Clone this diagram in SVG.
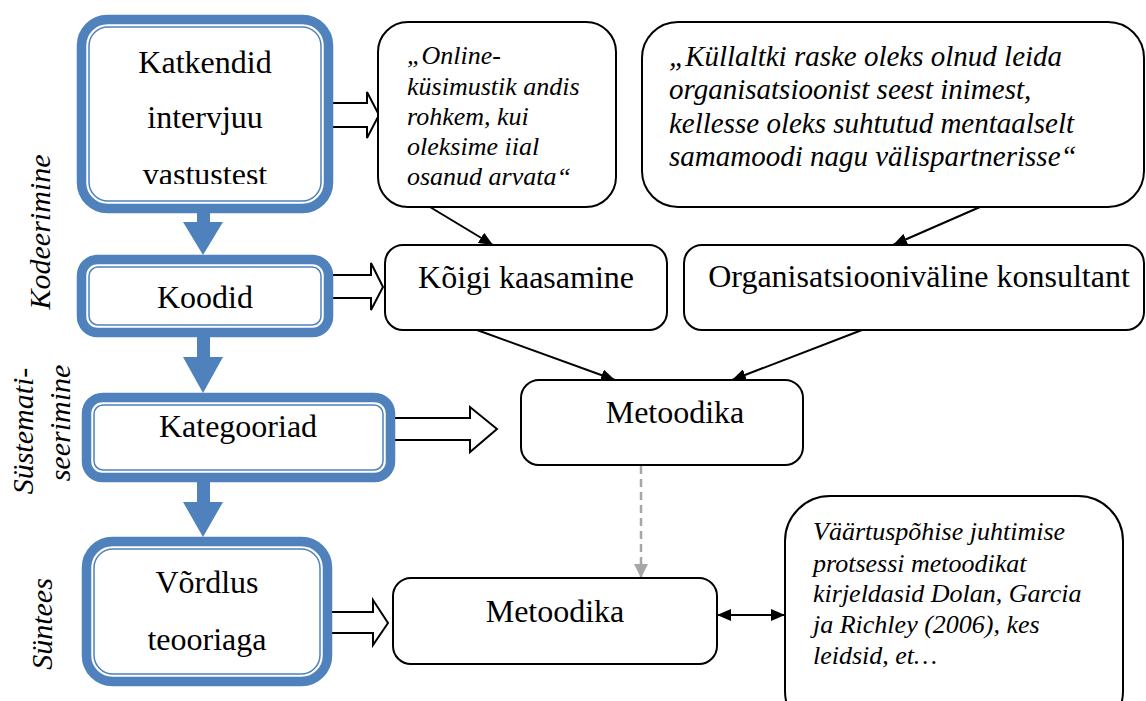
<svg xmlns="http://www.w3.org/2000/svg" width="1146" height="701" viewBox="0 0 1146 701">
  <style>
    .t { font-family: "Liberation Serif", "Times New Roman", serif; fill: #000; }
    .box-text { font-size: 32px; text-anchor: middle; }
    .quote { font-size: 26px; font-style: italic; }
    .quote-lg { font-size: 29px; font-style: italic; }
    .side { font-size: 30px; font-style: italic; text-anchor: middle; }
    .stage-outer { fill: #fff; stroke: #4f81bd; stroke-width: 9.5; }
    .stage-inner { fill: none; stroke: #4f81bd; stroke-width: 1.5; }
    .stage-arrow { fill: #4f81bd; }
    .plain { fill: #fff; stroke: #000; stroke-width: 2; }
    .hollow { fill: #fff; stroke: #000; stroke-width: 2; stroke-linejoin: miter; }
    .link { stroke: #000; stroke-width: 2; fill: none; }
    .dashed { stroke: #a6a6a6; stroke-width: 2.5; stroke-dasharray: 8 5; fill: none; }
  </style>
  <defs>
    <marker id="ah" viewBox="0 0 14 12" refX="14" refY="6" markerWidth="14" markerHeight="12" markerUnits="userSpaceOnUse" orient="auto-start-reverse">
      <path d="M0,0 L14,6 L0,12 Z" fill="#000"/>
    </marker>
    <marker id="ah-grey" viewBox="0 0 14 14" refX="14" refY="7" markerWidth="14" markerHeight="14" markerUnits="userSpaceOnUse" orient="auto">
      <path d="M0,0 L14,7 L0,14 Z" fill="#a6a6a6"/>
    </marker>
    <clipPath id="clip-excerpts">
      <rect x="86" y="24" width="240" height="160"/>
    </clipPath>
  </defs>

  <rect width="1146" height="701" fill="#fff"/>

  <!-- side phase labels -->
  <g id="phase-labels">
    <text class="t side" transform="translate(50,232) rotate(-90)">Kodeerimine</text>
    <text class="t side" transform="translate(33,431) rotate(-90)">Süstemati-</text>
    <text class="t side" transform="translate(70,423) rotate(-90)">seerimine</text>
    <text class="t side" transform="translate(52,624) rotate(-90)">Süntees</text>
  </g>

  <!-- connectors -->
  <g id="connectors">
    <!-- block arrows from stages -->
    <polygon class="hollow" points="327,103 367,103 367,92 379,115 367,138 367,127 327,127"/>
    <polygon class="hollow" points="328,275 371,275 371,263 383,287 371,310 371,298 328,298"/>
    <polygon class="hollow" points="390,418 470,418 470,407 497,429 470,452 470,440 390,440"/>
    <polygon class="hollow" points="323,612 373,612 373,600 388,623 373,645 373,633 323,633"/>
    <!-- stage-to-stage arrows -->
    <path class="stage-arrow" d="M197,210 H210 V222 H223 L203,255 L183,222 H197 Z"/>
    <path class="stage-arrow" d="M197,335 H210 V357 H223 L203,393 L183,357 H197 Z"/>
    <path class="stage-arrow" d="M197,480 H210 V502 H223 L203,537 L183,502 H197 Z"/>
    <!-- thin arrows -->
    <line class="link" x1="430" y1="207" x2="493" y2="245" marker-end="url(#ah)"/>
    <line class="link" x1="980" y1="207" x2="893" y2="245" marker-end="url(#ah)"/>
    <line class="link" x1="477" y1="330" x2="615" y2="380" marker-end="url(#ah)"/>
    <line class="link" x1="862" y1="330" x2="732" y2="380" marker-end="url(#ah)"/>
    <line class="dashed" x1="641" y1="466" x2="641" y2="578" marker-end="url(#ah-grey)"/>
    <line class="link" x1="717" y1="615" x2="785" y2="615" marker-start="url(#ah)" marker-end="url(#ah)"/>
  </g>

  <!-- stage boxes -->
  <g id="stage-excerpts">
    <rect class="stage-outer" x="81.5" y="19.5" width="247" height="189" rx="26"/>
    <rect class="stage-inner" x="89" y="27" width="232" height="174" rx="19"/>
    <g clip-path="url(#clip-excerpts)">
      <text class="t box-text" x="205" y="73">Katkendid</text>
      <text class="t box-text" x="205" y="128">intervjuu</text>
      <text class="t box-text" x="205" y="185">vastustest</text>
    </g>
  </g>
  <g id="stage-codes">
    <rect class="stage-outer" x="81.5" y="259.5" width="247" height="73" rx="16"/>
    <rect class="stage-inner" x="89" y="267" width="232" height="58" rx="9"/>
    <text class="t box-text" x="205" y="308">Koodid</text>
  </g>
  <g id="stage-categories">
    <rect class="stage-outer" x="86.5" y="397.5" width="304" height="80" rx="16"/>
    <rect class="stage-inner" x="94" y="405" width="289" height="65" rx="9"/>
    <text class="t box-text" x="238" y="437">Kategooriad</text>
  </g>
  <g id="stage-comparison">
    <rect class="stage-outer" x="86.5" y="541.5" width="241" height="140" rx="26"/>
    <rect class="stage-inner" x="94" y="549" width="226" height="125" rx="19"/>
    <text class="t box-text" x="207" y="593">Võrdlus</text>
    <text class="t box-text" x="207" y="650">teooriaga</text>
  </g>

  <!-- quotes and themes -->
  <g id="quote-online">
    <rect class="plain" x="378" y="22" width="238" height="185" rx="30"/>
    <text class="t quote" x="407" y="64">„Online-</text>
    <text class="t quote" x="407" y="95">küsimustik andis</text>
    <text class="t quote" x="407" y="125">rohkem, kui</text>
    <text class="t quote" x="407" y="155">oleksime iial</text>
    <text class="t quote" x="407" y="185">osanud arvata“</text>
  </g>
  <g id="quote-consultant">
    <rect class="plain" x="642" y="22" width="502" height="185" rx="36"/>
    <text class="t quote-lg" x="669" y="66">„Küllaltki raske oleks olnud leida</text>
    <text class="t quote-lg" x="669" y="99">organisatsioonist seest inimest,</text>
    <text class="t quote-lg" x="669" y="133">kellesse oleks suhtutud mentaalselt</text>
    <text class="t quote-lg" x="669" y="166">samamoodi nagu välispartnerisse“</text>
  </g>
  <g id="code-inclusion">
    <rect class="plain" x="385" y="245" width="282" height="85" rx="18"/>
    <text class="t box-text" x="526" y="288">Kõigi kaasamine</text>
  </g>
  <g id="code-consultant">
    <rect class="plain" x="684" y="245" width="460" height="85" rx="18"/>
    <text class="t box-text" x="919" y="287">Organisatsiooniväline konsultant</text>
  </g>
  <g id="category-method">
    <rect class="plain" x="521" y="380" width="282" height="85" rx="18"/>
    <text class="t box-text" x="675" y="423">Metoodika</text>
  </g>
  <g id="synthesis-method">
    <rect class="plain" x="393" y="578" width="324" height="86" rx="18"/>
    <text class="t box-text" x="555" y="622">Metoodika</text>
  </g>
  <g id="theory-note">
    <rect class="plain" x="785" y="496" width="338" height="240" rx="45"/>
    <text class="t quote" x="813" y="540">Väärtuspõhise juhtimise</text>
    <text class="t quote" x="813" y="572">protsessi metoodikat</text>
    <text class="t quote" x="813" y="602">kirjeldasid Dolan, Garcia</text>
    <text class="t quote" x="813" y="633">ja Richley (2006), kes</text>
    <text class="t quote" x="813" y="664">leidsid, et…</text>
  </g>
</svg>
